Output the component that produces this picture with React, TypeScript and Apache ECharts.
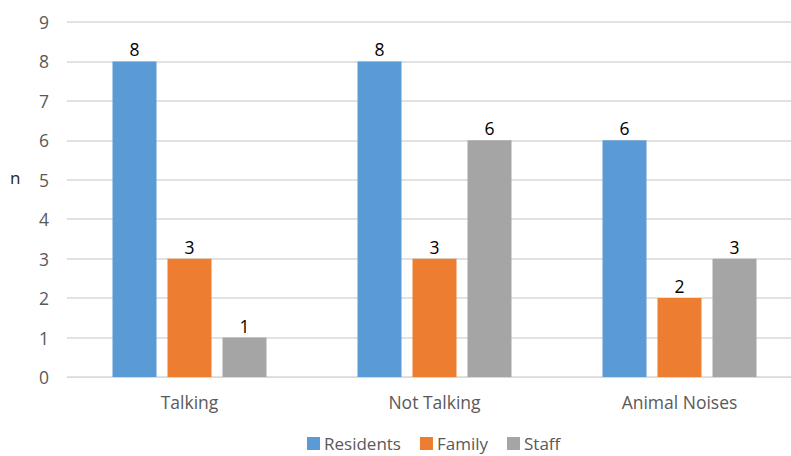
import React, { useEffect, useRef } from "react";
import * as echarts from "echarts";

const categories = ["Talking", "Not Talking", "Animal Noises"];
const residents = [8, 8, 6];
const family = [3, 3, 2];
const staff = [1, 6, 3];
const seriesNames = ["Residents", "Family", "Staff"];
const colors = ["#5B9BD5", "#ED7D31", "#A5A5A5"];

const FONT = "'Open Sans', 'Noto Sans', sans-serif";

export default function App() {
  const ref = useRef<HTMLDivElement>(null);
  useEffect(() => {
    if (!ref.current) return;
    const chart = echarts.init(ref.current, undefined, { renderer: "svg" });
    const data = [residents, family, staff];
    chart.setOption({
      animation: false,
      textStyle: { fontFamily: FONT },
      grid: { left: 67, top: 22, right: 0, bottom: 79, containLabel: false },
      legend: {
        top: 430,
        left: 302,
        itemWidth: 13,
        itemHeight: 13,
        itemGap: 19,
        icon: "rect",
        textStyle: { fontSize: 17, color: "#595959", fontFamily: FONT, padding: [0, 0, 0, -1] },
        data: seriesNames,
      },
      graphic: [
        {
          type: "text",
          left: 10,
          top: 169,
          style: { text: "n", fontSize: 17, fill: "#262626", fontFamily: FONT },
        },
      ],
      xAxis: {
        type: "category",
        data: categories,
        axisTick: { show: false },
        axisLine: { lineStyle: { color: "#D9D9D9" } },
        axisLabel: { fontSize: 17.5, color: "#595959", margin: 16, fontFamily: FONT },
      },
      yAxis: {
        type: "value",
        min: 0,
        max: 9,
        interval: 1,
        axisLine: { show: false },
        axisTick: { show: false },
        splitLine: { lineStyle: { color: "#D9D9D9", width: 1.5 } },
        axisLabel: { fontSize: 17.5, color: "#595959", margin: 18, fontFamily: FONT },
      },
      series: seriesNames.map((name, i) => ({
        name,
        type: "bar",
        data: data[i],
        barWidth: 44,
        barGap: "25%",
        itemStyle: { color: colors[i] },
        label: {
          show: true,
          position: "top",
          distance: 3,
          fontSize: 17.5,
          color: "#000000",
          fontFamily: FONT,
        },
      })),
    });
    return () => chart.dispose();
  }, []);
  return (
    <div style={{ width: 791, height: 456, position: "absolute", left: 0, top: 0, overflow: "hidden" }}>
      <div ref={ref} style={{ width: 802, height: 456, position: "absolute", left: 0, top: 0 }} />
    </div>
  );
}
